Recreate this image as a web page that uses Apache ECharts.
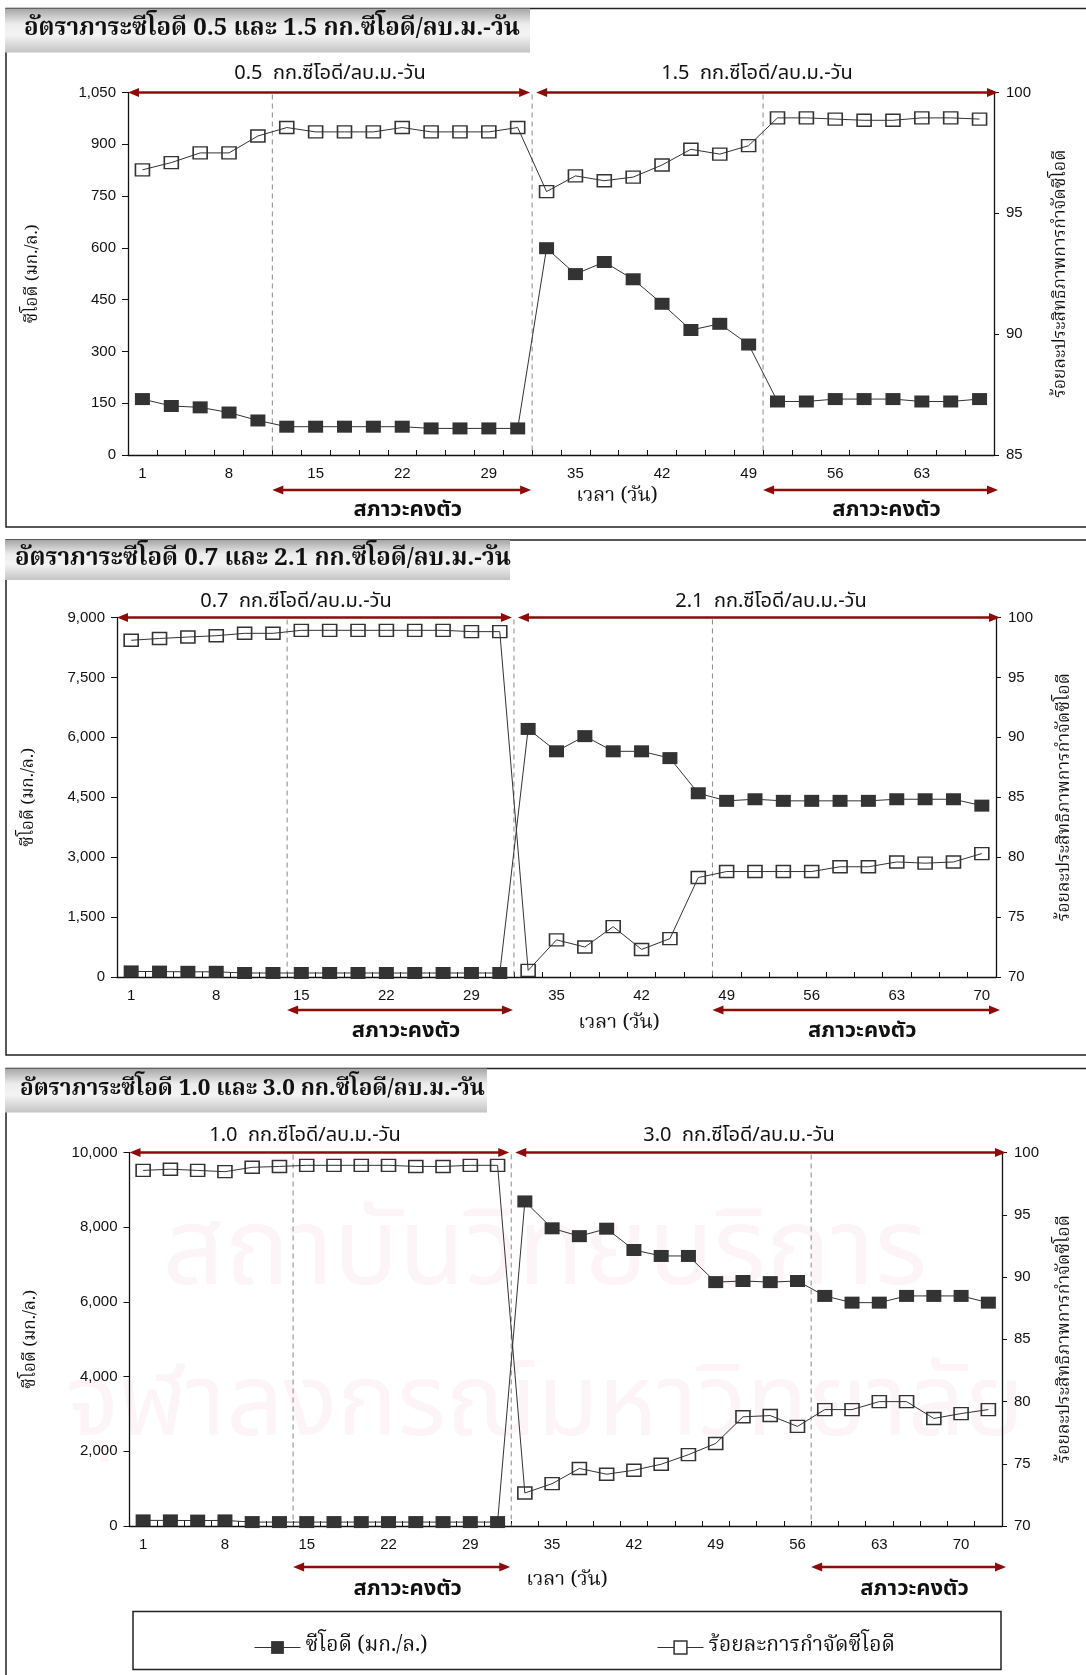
<!DOCTYPE html>
<html>
<head>
<meta charset="utf-8">
<script src="https://cdn.jsdelivr.net/npm/echarts@6/dist/echarts.min.js"></script>
<style>
  html, body { margin: 0; padding: 0; background: #fff; }
  #c { width: 1086px; height: 1675px; }
</style>
</head>
<body>
<div id="c"></div>
<script>
// Sampling points sit on a category axis; every third point carries a day label.
const dayLabelsA = ['1', '8', '15', '22', '29', '35', '42', '49', '56', '63'];
const dayLabelsB = ['1', '8', '15', '22', '29', '35', '42', '49', '56', '63', '70'];

// Panel A: 0.5 then 1.5 kg COD/m3-d
const codA = [162, 142, 138, 123, 100, 82, 82, 82, 82, 82, 77, 77, 77, 77,
              599, 524, 559, 509, 438, 362, 380, 320, 155, 155, 162, 162, 162, 155, 155, 162];
const remA = [96.8, 97.1, 97.5, 97.5, 98.2, 98.55, 98.37, 98.37, 98.37, 98.55, 98.37, 98.37, 98.37, 98.55,
              95.9, 96.55, 96.35, 96.5, 97.0, 97.65, 97.45, 97.8, 98.95, 98.95, 98.9, 98.85, 98.85, 98.95, 98.95, 98.9];

// Panel B: 0.7 then 2.1 kg COD/m3-d
const codB = [140, 135, 130, 130, 100, 100, 100, 100, 100, 100, 100, 100, 100, 100,
              6210, 5650, 6030, 5650, 5650, 5480, 4600, 4410, 4450, 4410, 4410, 4410, 4410, 4450, 4450, 4450, 4290];
const remB = [98.1, 98.25, 98.37, 98.48, 98.68, 98.68, 98.93, 98.93, 98.93, 98.93, 98.93, 98.93, 98.82, 98.82,
              70.55, 73.1, 72.5, 74.2, 72.3, 73.2, 78.3, 78.8, 78.8, 78.8, 78.8, 79.2, 79.2, 79.6, 79.5, 79.6, 80.3];

// Panel C: 1.0 then 3.0 kg COD/m3-d
const codC = [150, 150, 145, 150, 105, 105, 105, 105, 105, 105, 105, 105, 105, 105,
              8690, 7970, 7760, 7960, 7390, 7230, 7230, 6530, 6560, 6530, 6560, 6160, 5980, 5980, 6160, 6160, 6160, 5980];
const remC = [98.56, 98.66, 98.56, 98.46, 98.81, 98.88, 98.97, 98.97, 98.97, 98.97, 98.88, 98.88, 98.97, 98.97,
              72.65, 73.4, 74.62, 74.16, 74.48, 74.96, 75.73, 76.63, 78.77, 78.87, 78.0, 79.35, 79.35, 79.99, 79.99, 78.64, 79.03, 79.35];

// Load change happens after the 14th sample; steady-state spans as [fromBoundary, toBoundary]
const loadSplit = 14;
const steadyA = [[5, 14], [22, 30]];
const steadyB = [[6, 14], [21, 31]];
const steadyC = [[6, 14], [25, 32]];

const loadTextsA = ['0.5  กก.ซีโอดี/ลบ.ม.-วัน', '1.5  กก.ซีโอดี/ลบ.ม.-วัน'];
const loadTextsB = ['0.7  กก.ซีโอดี/ลบ.ม.-วัน', '2.1  กก.ซีโอดี/ลบ.ม.-วัน'];
const loadTextsC = ['1.0  กก.ซีโอดี/ลบ.ม.-วัน', '3.0  กก.ซีโอดี/ลบ.ม.-วัน'];
const titlesABC = [
  'อัตราภาระซีโอดี 0.5 และ 1.5 กก.ซีโอดี/ลบ.ม.-วัน',
  'อัตราภาระซีโอดี 0.7 และ 2.1 กก.ซีโอดี/ลบ.ม.-วัน',
  'อัตราภาระซีโอดี 1.0 และ 3.0 กก.ซีโอดี/ลบ.ม.-วัน'
];

const codAxisA = { min: 0, max: 1050, interval: 150 };
const codAxisB = { min: 0, max: 9000, interval: 1500 };
const codAxisC = { min: 0, max: 10000, interval: 2000 };
const remAxisA = { min: 85, max: 100, interval: 5 };
const remAxisB = { min: 70, max: 100, interval: 5 };
const remAxisC = { min: 70, max: 100, interval: 5 };

const NAME_COD = 'ซีโอดี (มก./ล.)';
const NAME_REM = 'ร้อยละการกำจัดซีโอดี';
const AXIS_COD = 'ซีโอดี (มก./ล.)';
const AXIS_REM = 'ร้อยละประสิทธิภาพการกำจัดซีโอดี';
const TIME_LABEL = 'เวลา (วัน)';
const STEADY_LABEL = 'สภาวะคงตัว';

// ---- layout of the three stacked panels ----
const SANS = '"Liberation Sans", Arial, "Noto Sans Thai", sans-serif';
const THAI_SANS = '"Noto Sans Thai", "Loma", "Garuda", "Liberation Sans", sans-serif';
const THAI_SERIF = '"Noto Serif Thai", "Tlwg Typo", "Norasi", "Kinnari", serif';
const RED = '#8c0b0b';
const INK = '#111';

const panels = [
  { cod: codA, rem: remA, labels: dayLabelsA, steady: steadyA, loads: loadTextsA, title: titlesABC[0],
    codAxis: codAxisA, remAxis: remAxisA,
    grid: { left: 128, top: 92.5, width: 866, height: 362.5 },
    box: [8.5, 527], titleBox: [5, 8.5, 525, 44], titleX: 24, titleSize: 24,
    loadX: [330, 757], loadDy: 18, codGap: 85, remGap: 59,
    arrowDy: 35, steadyDy: 57, timePos: [617, 43] },
  { cod: codB, rem: remB, labels: dayLabelsB, steady: steadyB, loads: loadTextsB, title: titlesABC[1],
    codAxis: codAxisB, remAxis: remAxisB,
    grid: { left: 117, top: 617.5, width: 879, height: 359.5 },
    box: [540, 1055], titleBox: [5, 540, 505, 40], titleX: 15, titleSize: 24,
    loadX: [296, 771], loadDy: 15, codGap: 78, remGap: 61,
    arrowDy: 33, steadyDy: 56, timePos: [619, 48] },
  { cod: codC, rem: remC, labels: dayLabelsB, steady: steadyC, loads: loadTextsC, title: titlesABC[2],
    codAxis: codAxisC, remAxis: remAxisC,
    grid: { left: 129.5, top: 1152.5, width: 872.5, height: 373.5 },
    box: [1068.5, 1690], titleBox: [5, 1068.5, 482, 44], titleX: 20, titleSize: 22.5,
    loadX: [305, 739], loadDy: 16, codGap: 89, remGap: 55,
    arrowDy: 41, steadyDy: 65, timePos: [567, 56] }
];

const grids = [], xAxes = [], yAxes = [], series = [];
const helperX = [];
panels.forEach((p, k) => {
  const n = p.cod.length;
  grids.push(Object.assign({ containLabel: false }, p.grid));
  xAxes.push({
    type: 'category', gridIndex: k, boundaryGap: true,
    data: p.cod.map((_, i) => String(i)),
    axisLine: { lineStyle: { color: INK, width: 1.3 } },
    axisTick: { show: true, inside: true, length: 5, interval: 0, lineStyle: { color: INK, width: 1 } },
    axisLabel: {
      interval: 0, margin: 11, fontSize: 15, fontFamily: SANS, color: INK,
      formatter: (v, i) => (i % 3 === 0 && p.labels[i / 3] !== undefined) ? p.labels[i / 3] : ''
    },
    splitLine: { show: false }
  });
  yAxes.push({
    type: 'value', gridIndex: k, position: 'left',
    min: p.codAxis.min, max: p.codAxis.max, interval: p.codAxis.interval,
    axisLine: { show: true, lineStyle: { color: INK, width: 1.3 } },
    axisTick: { show: true, length: 6, lineStyle: { color: INK } },
    axisLabel: { margin: 12, fontSize: 15, fontFamily: SANS, color: INK,
      formatter: v => v.toLocaleString('en-US') },
    splitLine: { show: false },
    name: AXIS_COD, nameLocation: 'middle', nameRotate: 90, nameGap: p.codGap,
    nameTextStyle: { fontSize: 17, fontFamily: THAI_SERIF, color: INK }
  });
  yAxes.push({
    type: 'value', gridIndex: k, position: 'right',
    min: p.remAxis.min, max: p.remAxis.max, interval: p.remAxis.interval,
    axisLine: { show: true, lineStyle: { color: INK, width: 1.3 } },
    axisTick: { show: true, length: 5, lineStyle: { color: INK } },
    axisLabel: { margin: 12, fontSize: 15, fontFamily: SANS, color: INK },
    splitLine: { show: false },
    name: AXIS_REM, nameLocation: 'middle', nameRotate: 90, nameGap: p.remGap,
    nameTextStyle: { fontSize: 17.5, fontFamily: THAI_SERIF, color: INK }
  });
  series.push({
    type: 'line', name: NAME_COD, xAxisIndex: k, yAxisIndex: 2 * k,
    data: p.cod, symbol: 'rect', symbolSize: [15, 12], showAllSymbol: true,
    itemStyle: { color: '#333' }, lineStyle: { color: '#333', width: 1 }, z: 3
  });
  series.push({
    type: 'line', name: NAME_REM, xAxisIndex: k, yAxisIndex: 2 * k + 1,
    data: p.rem, symbol: 'rect', symbolSize: [14, 12], showAllSymbol: true,
    itemStyle: { color: 'rgba(255,255,255,0)', borderColor: '#333', borderWidth: 1.5 },
    lineStyle: { color: '#333', width: 1 }, z: 3
  });
  // hidden axis in boundary units (0..n) used to place phase markers between samples
  helperX.push({ type: 'value', gridIndex: k, min: 0, max: n, show: false });
});

const option = {
  backgroundColor: '#fff',
  animation: false,
  grid: grids,
  xAxis: xAxes.concat(helperX),
  yAxis: yAxes,
  legend: [
    { data: [NAME_COD], left: 249, top: 1632, itemWidth: 46, itemHeight: 16, selectedMode: false,
      itemStyle: { color: '#333' }, lineStyle: { color: '#333', width: 1 },
      textStyle: { fontSize: 21, fontFamily: THAI_SERIF, color: INK } },
    { data: [NAME_REM], left: 652, top: 1632, itemWidth: 46, itemHeight: 16, selectedMode: false,
      itemStyle: { color: '#fff', borderColor: '#333', borderWidth: 1.5 }, lineStyle: { color: '#333', width: 1 },
      textStyle: { fontSize: 21, fontFamily: THAI_SERIF, color: INK } }
  ],
  series: series
};

const chart = echarts.init(document.getElementById('c'), null, { renderer: 'canvas', width: 1086, height: 1675 });
chart.setOption(option);

// ---- frames, headings, load arrows and steady-state markers ----
function arrow(x1, x2, y, z) {
  const L = 11, H = 4.6;
  return [
    { type: 'line', z: z, shape: { x1: x1 + 4, y1: y, x2: x2 - 4, y2: y }, style: { stroke: RED, lineWidth: 2.4 } },
    { type: 'polygon', z: z, shape: { points: [[x1, y], [x1 + L, y - H], [x1 + L, y + H]] }, style: { fill: RED } },
    { type: 'polygon', z: z, shape: { points: [[x2, y], [x2 - L, y - H], [x2 - L, y + H]] }, style: { fill: RED } }
  ];
}
function text(str, x, y, size, family, weight, align) {
  return { type: 'text', z: 6, x: x, y: y,
    style: { text: str, fontSize: size, fontFamily: family, fontWeight: weight || 'normal',
      fill: INK, textAlign: align || 'center', textVerticalAlign: 'middle' } };
}

const gfx = [];
// faint institutional watermark behind the lower panel
gfx.push({ type: 'text', z: -5, x: 545, y: 1262,
  style: { text: 'สถาบันวิทยบริการ', fontSize: 108, fontFamily: THAI_SANS, fill: '#fcf4f6',
    textAlign: 'center', textVerticalAlign: 'middle' } });
gfx.push({ type: 'text', z: -5, x: 545, y: 1415,
  style: { text: 'จุฬาลงกรณ์มหาวิทยาลัย', fontSize: 100, fontFamily: THAI_SANS, fill: '#fcf4f6',
    textAlign: 'center', textVerticalAlign: 'middle' } });

panels.forEach((p, k) => {
  const n = p.cod.length;
  const bx = v => chart.convertToPixel({ xAxisIndex: 3 + k }, v);
  const yTop = chart.convertToPixel({ yAxisIndex: 2 * k }, p.codAxis.max);
  const yBot = chart.convertToPixel({ yAxisIndex: 2 * k }, p.codAxis.min);
  const xL = bx(0), xR = bx(n), xS = bx(loadSplit);

  // panel frame and heading box
  gfx.push({ type: 'rect', z: -2, shape: { x: 6, y: p.box[0], width: 1100, height: p.box[1] - p.box[0] },
    style: { fill: 'none', stroke: '#222', lineWidth: 1.5 } });
  const tb = p.titleBox;
  gfx.push({ type: 'rect', z: 1, shape: { x: tb[0], y: tb[1], width: tb[2], height: tb[3] },
    style: { fill: { type: 'linear', x: 0, y: 0, x2: 0, y2: 1, colorStops: [
      { offset: 0, color: '#a6a6a6' }, { offset: 0.35, color: '#ececec' },
      { offset: 0.6, color: '#f4f4f4' }, { offset: 1, color: '#c4c4c4' }] } } });
  gfx.push(text(p.title, p.titleX, tb[1] + tb[3] / 2 + 1, p.titleSize, THAI_SERIF, 'bold', 'left'));

  // dashed phase boundaries
  const dashes = [p.steady[0][0], loadSplit, p.steady[1][0]];
  dashes.forEach(b => {
    const x = bx(b);
    gfx.push({ type: 'line', z: 1, shape: { x1: x, y1: yTop + 2, x2: x, y2: yBot },
      style: { stroke: '#888', lineWidth: 1, lineDash: [5, 4] } });
  });

  // load-rate arrows along the top edge
  gfx.push(...arrow(xL, xS - 2, yTop, 5));
  gfx.push(...arrow(xS + 4, xR + 4, yTop, 5));
  gfx.push(text(p.loads[0], p.loadX[0], yTop - p.loadDy, 20, THAI_SANS));
  gfx.push(text(p.loads[1], p.loadX[1], yTop - p.loadDy, 20, THAI_SANS));

  // steady-state arrows below the time axis
  p.steady.forEach((s, j) => {
    const a = bx(s[0]), b = bx(s[1]) + (j === 1 ? 4 : -1);
    gfx.push(...arrow(a, b, yBot + p.arrowDy, 5));
    gfx.push(text(STEADY_LABEL, (a + b) / 2 + 6, yBot + p.steadyDy, 22, THAI_SANS, 'bold'));
  });

  gfx.push(text(TIME_LABEL, p.timePos[0], yBot + p.timePos[1], 20, THAI_SERIF));
});

// legend frame
gfx.push({ type: 'rect', z: -1, shape: { x: 133, y: 1611.5, width: 868, height: 58 },
  style: { fill: '#fff', stroke: '#222', lineWidth: 1.5 } });

chart.setOption({ graphic: gfx });
</script>
</body>
</html>
